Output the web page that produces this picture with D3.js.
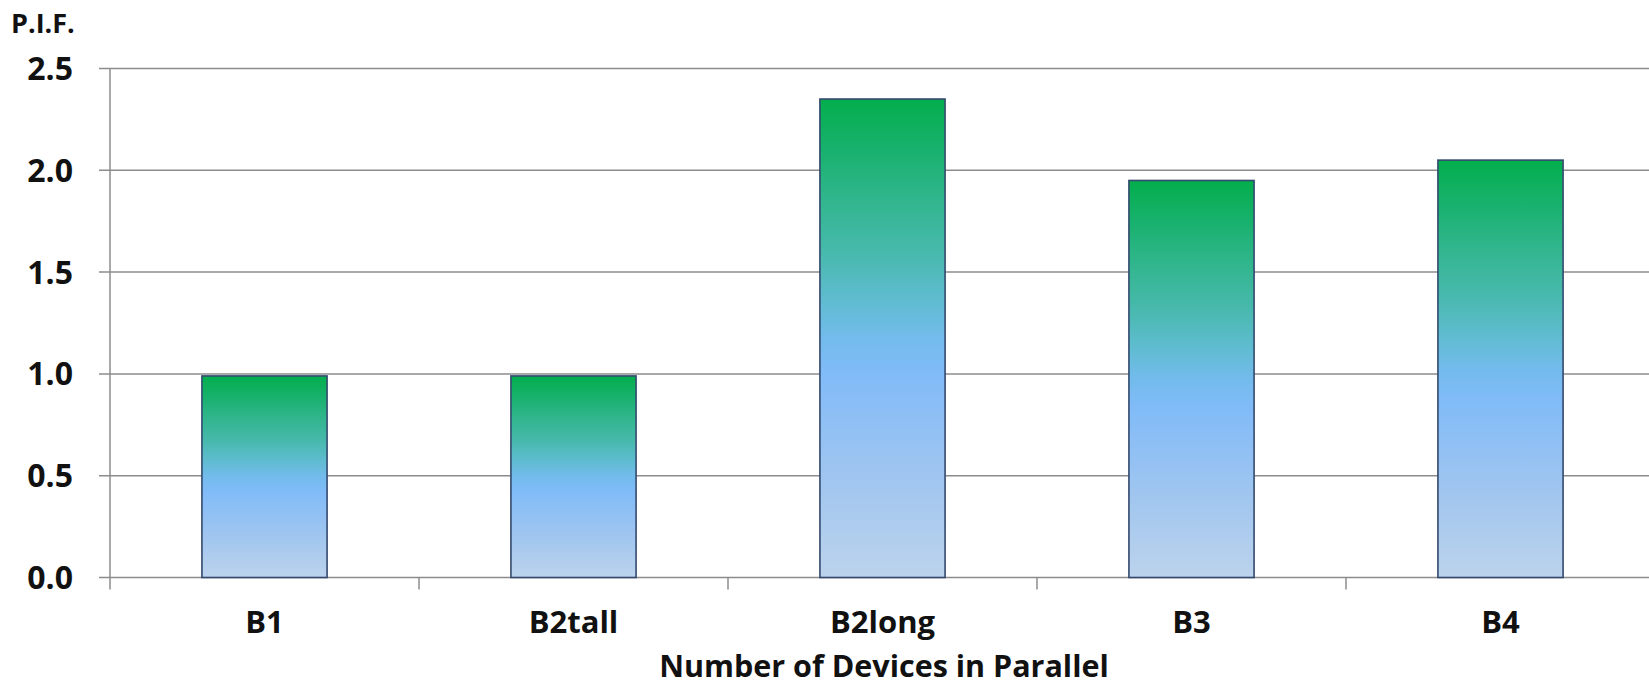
<!DOCTYPE html>
<html>
<head>
<meta charset="utf-8">
<script src="https://cdn.jsdelivr.net/npm/d3@7"></script>
<style>
  html, body { margin: 0; padding: 0; background: #fff; }
  svg { display: block; }
  text { font-family: "Open Sans", Lato, sans-serif; font-weight: 700; fill: #111; }
</style>
</head>
<body>
<svg id="chart" width="1649" height="687"></svg>
<script>
// Peak inspiratory flow factor per device configuration
const categories = ["B1", "B2tall", "B2long", "B3", "B4"];
const pifValues = [0.99, 0.99, 2.35, 1.95, 2.05];
const yTickValues = [0, 0.5, 1.0, 1.5, 2.0, 2.5];
const yAxisLabel = "P.I.F.";
const xAxisLabel = "Number of Devices in Parallel";

const svg = d3.select("#chart");
const W = 1649, H = 687;
const plot = { left: 110, right: 1655, top: 68.5, bottom: 577.5 };

const x = d3.scaleBand()
  .domain(categories)
  .range([plot.left, plot.right])
  .paddingInner(0)
  .paddingOuter(0);

const y = d3.scaleLinear()
  .domain([0, 2.5])
  .range([plot.bottom, plot.top]);

// vertical fill: green cap fading through teal into light blue
const defs = svg.append("defs");
const grad = defs.append("linearGradient")
  .attr("id", "barFill")
  .attr("x1", 0).attr("y1", 0).attr("x2", 0).attr("y2", 1);
[
  [0.00, "#03ae4c"],
  [0.10, "#17b16c"],
  [0.22, "#33b690"],
  [0.32, "#47b9ac"],
  [0.42, "#5fbcd0"],
  [0.50, "#73bbec"],
  [0.57, "#80bbf8"],
  [0.68, "#90c0f4"],
  [0.80, "#a1c6ef"],
  [1.00, "#bcd3ec"]
].forEach(([o, c]) => grad.append("stop").attr("offset", o).attr("stop-color", c));

// horizontal gridlines
svg.append("g")
  .selectAll("line")
  .data(yTickValues)
  .join("line")
  .attr("x1", plot.left - 11)
  .attr("x2", W)
  .attr("y1", d => y(d))
  .attr("y2", d => y(d))
  .attr("stroke", "#8c8c8c")
  .attr("stroke-width", 1.5);

// y axis line
svg.append("line")
  .attr("x1", plot.left).attr("x2", plot.left)
  .attr("y1", y(2.5)).attr("y2", plot.bottom + 12)
  .attr("stroke", "#8c8c8c")
  .attr("stroke-width", 1.5);

// category separator ticks under the baseline
const sepX = categories.map(c => x(c)).slice(1);
svg.append("g")
  .selectAll("line")
  .data(sepX)
  .join("line")
  .attr("x1", d => d).attr("x2", d => d)
  .attr("y1", plot.bottom).attr("y2", plot.bottom + 12)
  .attr("stroke", "#8c8c8c")
  .attr("stroke-width", 1.5);

// y tick labels
svg.append("g")
  .selectAll("text")
  .data(yTickValues)
  .join("text")
  .attr("x", 73)
  .attr("y", d => y(d))
  .attr("dy", "0.36em")
  .attr("text-anchor", "end")
  .style("font-size", "32px")
  .text(d => d3.format(".1f")(d));

// bars
const barW = x.bandwidth() * 0.405;
svg.append("g")
  .selectAll("rect")
  .data(categories.map((c, i) => ({ c, v: pifValues[i] })))
  .join("rect")
  .attr("x", d => x(d.c) + x.bandwidth() / 2 - barW / 2)
  .attr("y", d => y(d.v))
  .attr("width", barW)
  .attr("height", d => y(0) - y(d.v))
  .attr("fill", "url(#barFill)")
  .attr("stroke", "#34496e")
  .attr("stroke-width", 1.6);

// category labels
svg.append("g")
  .selectAll("text")
  .data(categories)
  .join("text")
  .attr("x", d => x(d) + x.bandwidth() / 2)
  .attr("y", 633)
  .attr("text-anchor", "middle")
  .style("font-size", "31px")
  .text(d => d);

// axis titles
svg.append("text")
  .attr("x", 11)
  .attr("y", 33)
  .style("font-size", "27px")
  .text(yAxisLabel);

svg.append("text")
  .attr("x", 884)
  .attr("y", 677)
  .attr("text-anchor", "middle")
  .style("font-size", "30.5px")
  .text(xAxisLabel);
</script>
</body>
</html>
